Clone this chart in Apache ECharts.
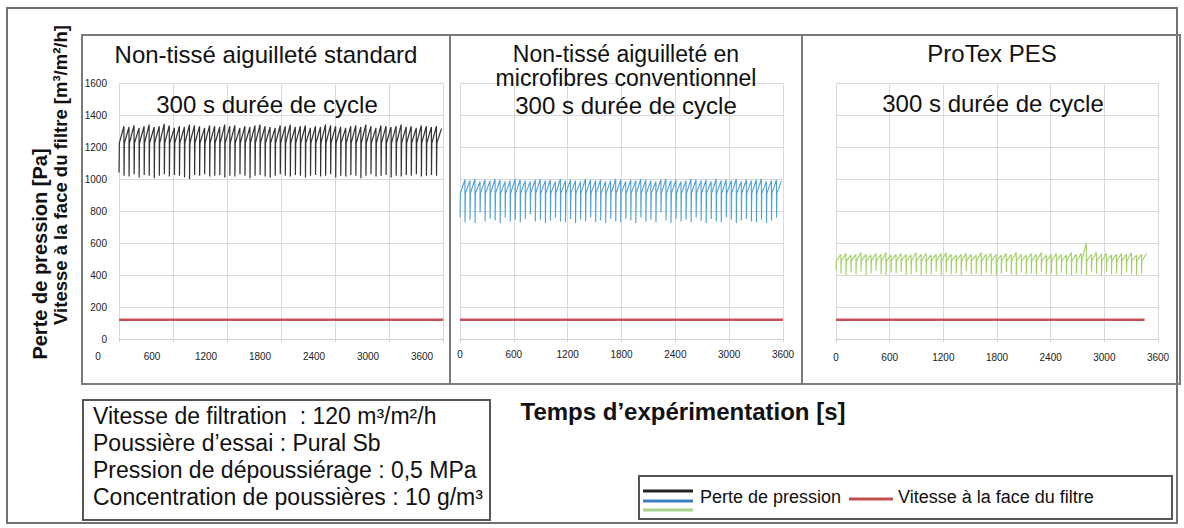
<!DOCTYPE html>
<html>
<head>
<meta charset="utf-8">
<script src="https://cdn.jsdelivr.net/npm/echarts@6/dist/echarts.min.js"></script>
<style>
  html, body { margin: 0; padding: 0; background: #fff; }
  #chart { width: 1184px; height: 528px; }
</style>
</head>
<body>
<div id="chart"></div>
<script>
// x ticks (s) and y ticks (Pa)
const X_TICKS = [0, 600, 1200, 1800, 2400, 3000, 3600];
const Y_TICKS = [0, 200, 400, 600, 800, 1000, 1200, 1400, 1600];

// seconds between two cleaning pulses as drawn
const CYCLE = 56;

// panel 1 : standard needle felt (Pa)
const p1Peak = [1330,1325,1335,1320,1330,1340,1325,1330,1345,1335,1320,1330,1325,1340,1335,1330,
                1320,1335,1330,1325,1340,1330,1335,1320,1330,1325,1335,1340,1330,1325,1320,1335,
                1330,1340,1325,1330,1335,1320,1330,1325,1340,1335,1330,1325,1320,1330,1335,1325,
                1340,1330,1320,1335,1330,1325,1330,1340,1325,1330,1320,1335,1330,1325,1330,1315];
const p1Low  = [1040,1020,1015,1030,1010,1025,1020,1005,1020,1030,1015,1025,1020,1010,1000,1025,
                1020,1030,1015,1020,1025,1010,1020,1015,1030,1020,1005,1020,1025,1015,1010,1020,
                1030,1020,1015,1025,1020,1010,1020,1025,1015,1020,1030,1010,1020,1015,1025,1020,
                1005,1020,1030,1015,1020,1025,1010,1020,1015,1025,1020,1030,1015,1020,1025,1020];
const p1Knee = 1225;

// panel 2 : conventional microfibre needle felt (Pa)
const p2Peak = [995,990,1000,985,995,990,1000,995,985,990,1000,995,990,985,995,1000,
                990,995,985,1000,990,995,990,985,1000,995,990,995,985,990,1000,995,
                985,995,990,1000,995,990,985,995,1000,990,995,985,990,1000,995,990,
                995,985,1000,990,995,990,1000,985,995,990,995,1000,985,990,995,990];
const p2Low  = [760,730,745,725,790,735,750,740,725,760,735,745,730,750,780,735,
                745,725,740,760,735,730,750,725,745,735,760,730,740,725,750,735,
                730,750,740,725,760,735,745,730,790,740,725,750,735,745,730,760,
                740,725,750,735,730,760,745,725,740,750,735,730,745,725,740,760];
const p2Knee = 910;

// panel 3 : ProTex PES (Pa)
const p3Peak = [530,535,525,530,540,530,525,535,530,540,525,530,535,530,525,540,
                530,535,525,530,535,540,530,525,530,535,530,525,540,530,535,530,
                525,535,530,540,530,525,535,530,540,525,530,535,530,525,540,530,
                535,600,530,540,530,535,525,530,535,530,540,525,530,535];
const p3Low  = [430,410,400,415,405,420,400,410,425,405,400,415,410,420,400,405,
                415,400,410,405,420,400,415,405,410,400,425,405,410,400,415,405,
                400,410,420,405,400,415,405,410,400,420,405,410,400,415,405,400,
                410,405,400,415,410,400,420,405,410,400,415,405,400,410];
const p3Knee = 488;

// filter face velocity (m3/m2/h)
const velTime1 = [0, 3600];
const velTime3 = [0, 3450];
const vel = [120, 120];

function sawtooth(peaks, lows, knee) {
  const pts = [];
  for (let i = 0; i < peaks.length; i++) {
    const t0 = i * CYCLE;
    pts.push([t0, lows[i]]);
    pts.push([t0 + 4, knee]);
    pts.push([t0 + CYCLE - 1, peaks[i]]);
  }
  return pts;
}
function pairs(ts, vs) { return ts.map((t, i) => [t, vs[i]]); }

const FONT = '"Liberation Sans", Arial, sans-serif';
const grids = [
  { left: 119, right: 741, top: 83, bottom: 189 },
  { left: 460, right: 401, top: 83, bottom: 189 },
  { left: 836, right: 26,  top: 83, bottom: 189 }
];
const labelMargins = [12, 10, 13];

const xAxes = grids.map((g, i) => ({
  type: 'value', gridIndex: i, min: X_TICKS[0], max: X_TICKS[X_TICKS.length - 1],
  interval: X_TICKS[1] - X_TICKS[0],
  axisLine: { show: true, lineStyle: { color: '#cfcfcf' } },
  axisTick: { show: true, length: 3, lineStyle: { color: '#cfcfcf' } },
  splitLine: { show: true, lineStyle: { color: '#dadada' } },
  axisLabel: {
    color: '#222', fontSize: 10, fontFamily: FONT, margin: labelMargins[i],
    formatter: v => String(v),
    padding: i === 0 ? [0, 42, 0, 0] : 0
  }
}));
const yAxes = grids.map((g, i) => ({
  type: 'value', gridIndex: i, min: Y_TICKS[0], max: Y_TICKS[Y_TICKS.length - 1],
  interval: Y_TICKS[1] - Y_TICKS[0],
  axisLine: { show: false },
  axisTick: { show: false },
  splitLine: { show: true, lineStyle: { color: '#dadada' } },
  axisLabel: { show: i === 0, color: '#222', fontSize: 10, fontFamily: FONT, margin: 12,
               formatter: v => String(v) }
}));

function lineSeries(i, data, color, width) {
  return {
    type: 'line', xAxisIndex: i, yAxisIndex: i, data: data,
    showSymbol: false, symbol: 'none', sampling: null, animation: false,
    lineStyle: { color: color, width: width }, silent: true
  };
}

const series = [
  lineSeries(0, sawtooth(p1Peak, p1Low, p1Knee), '#333', 1.2),
  lineSeries(1, sawtooth(p2Peak, p2Low, p2Knee), '#4f9fd8', 1.1),
  lineSeries(2, sawtooth(p3Peak, p3Low, p3Knee), '#a2d066', 1.1),
  lineSeries(0, pairs(velTime1, vel), '#c8505a', 2.5),
  lineSeries(1, pairs(velTime1, vel), '#c8505a', 2.5),
  lineSeries(2, pairs(velTime3, vel), '#c8505a', 2.5)
];

function txt(text, x, y, size, opts) {
  opts = opts || {};
  return {
    type: 'text', x: x, y: y, rotation: opts.rot || 0, z: 20,
    style: {
      text: text, fill: '#111', font: (opts.bold ? 'bold ' : '') + size + 'px ' + FONT,
      textAlign: opts.align || 'center', textVerticalAlign: opts.valign || 'middle',
      lineHeight: opts.lh
    }
  };
}
function box(x, y, w, h, color, lw) {
  return { type: 'rect', z: 15, shape: { x: x, y: y, width: w, height: h },
           style: { fill: 'none', stroke: color, lineWidth: lw } };
}
function seg(x1, y1, x2, y2, color, lw) {
  return { type: 'line', z: 20, shape: { x1: x1, y1: y1, x2: x2, y2: y2 },
           style: { stroke: color, lineWidth: lw } };
}

const graphics = [
  box(7, 8, 1170, 515, '#707070', 2),
  box(82, 35, 368, 349, '#7a7a7a', 2),
  box(450, 35, 352, 349, '#7a7a7a', 2),
  box(802, 35, 378, 349, '#7a7a7a', 2),
  txt('Non-tissé aiguilleté standard', 266, 54, 24),
  txt('300 s durée de cycle', 267, 104, 24),
  txt('Non-tissé aiguilleté en', 626, 54, 23),
  txt('microfibres conventionnel', 626, 78, 23),
  txt('300 s durée de cycle', 626, 105, 24),
  txt('ProTex PES', 992, 53, 24),
  txt('300 s durée de cycle', 993, 103, 24),
  txt('Perte de pression [Pa]', 40, 254, 20, { bold: true, rot: Math.PI / 2 }),
  txt('Vitesse à la face du filtre [m³/m²/h]', 60, 175, 18.5, { bold: true, rot: Math.PI / 2 }),
  txt('Temps d’expérimentation [s]', 683, 411, 24, { bold: true }),
  box(83, 400, 407, 120, '#555', 2),
  txt('Vitesse de filtration  : 120 m³/m²/h\nPoussière d’essai : Pural Sb\nPression de dépoussiérage : 0,5 MPa\nConcentration de poussières : 10 g/m³',
      93, 402, 23, { align: 'left', valign: 'top', lh: 27 }),
  box(639, 476, 533, 43, '#555', 2),
  seg(643, 491, 693, 491, '#222', 3),
  seg(643, 501, 693, 501, '#3d7fc1', 3),
  seg(643, 510, 693, 510, '#a9d18e', 3),
  txt('Perte de pression', 700, 497, 18, { align: 'left' }),
  seg(849, 499, 893, 499, '#c0504d', 3),
  txt('Vitesse à la face du filtre', 898, 497, 18, { align: 'left' })
];

const myChart = echarts.init(document.getElementById('chart'), null, { renderer: 'svg' });
myChart.setOption({
  animation: false,
  backgroundColor: '#fff',
  grid: grids,
  xAxis: xAxes,
  yAxis: yAxes,
  series: series,
  graphic: { elements: graphics }
});
</script>
</body>
</html>
